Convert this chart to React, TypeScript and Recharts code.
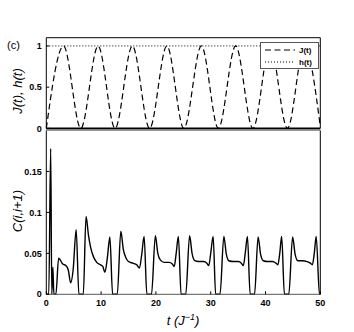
import { LineChart, Line, XAxis, YAxis, Legend } from "recharts";

// J(t): extrema
const jTimes = [0, 3.15, 6.3, 9.45, 12.55, 15.7, 18.85, 22.0, 25.1, 28.3, 31.4, 34.55, 37.7, 40.85, 44.0, 47.1, 50];
const jValues = [0, 1, 0, 1, 0, 1, 0, 1, 0, 1, 0, 1, 0, 1, 0, 1, 0.02];

// h(t): constant field
const hTimes = [0, 50];
const hValues = [1, 1];

// C(i,i+1)
const cTimes = [
  0, 0.45, 0.8, 1.0, 1.2, 1.38, 1.75, 2.25, 3.0, 3.6, 4.0, 4.45, 4.9, 5.45, 5.95,
  6.75, 7.25, 7.7, 8.1, 8.6, 9.2, 9.9, 10.3, 10.7, 11.15, 11.6, 12.1,
  12.95, 13.6, 14.05, 14.5, 15.0, 15.8, 16.5, 17.0, 17.4, 17.85, 18.35,
  19.2, 19.9, 20.35, 20.8, 21.5, 22.4, 23.0, 23.35, 23.7, 24.1, 24.6,
  25.45, 26.15, 26.6, 27.1, 27.8, 28.7, 29.3, 29.65, 30.0, 30.45, 30.9,
  31.7, 32.4, 32.85, 33.3, 34.1, 35.0, 35.6, 35.95, 36.3, 36.7, 37.2,
  38.0, 38.65, 39.1, 39.6, 40.4, 41.3, 41.9, 42.25, 42.6, 42.95, 43.45,
  44.25, 44.95, 45.4, 45.9, 46.7, 47.6, 48.2, 48.55, 48.9, 49.25, 49.85, 50,
];
const cValues = [
  0, 0, 0.178, 0, 0.033, 0, 0, 0.044, 0.037, 0.035, 0.03, 0.014, 0.03, 0.079, 0,
  0, 0.095, 0.072, 0.057, 0.046, 0.039, 0.036, 0.034, 0.027, 0.045, 0.07, 0,
  0, 0.077, 0.055, 0.045, 0.04, 0.038, 0.036, 0.032, 0.048, 0.0705, 0,
  0, 0.0715, 0.05, 0.042, 0.039, 0.039, 0.037, 0.034, 0.05, 0.0705, 0,
  0, 0.0715, 0.05, 0.041, 0.04, 0.04, 0.038, 0.035, 0.05, 0.0705, 0,
  0, 0.0705, 0.049, 0.041, 0.04, 0.04, 0.038, 0.035, 0.05, 0.0705, 0,
  0, 0.07, 0.049, 0.041, 0.04, 0.04, 0.038, 0.036, 0.05, 0.0705, 0,
  0, 0.07, 0.049, 0.041, 0.041, 0.04, 0.038, 0.036, 0.05, 0.0705, 0, 0,
];

const xTicks = [0, 10, 20, 30, 40, 50];
const topTicks = [0, 0.5, 1];
const bottomTicks = [0, 0.05, 0.1, 0.15];

const legendItems = [
  { name: "J(t)", dash: "6 3.5" },
  { name: "h(t)", dash: "1 2" },
];

const FONT = "'Liberation Sans', Arial, sans-serif";
const tickStyle = { fontSize: 9, fontWeight: "bold", fill: "#000", fontFamily: FONT };

const jData = jTimes.map((t, i) => ({ t, v: jValues[i] }));
const hData = hTimes.map((t, i) => ({ t, v: hValues[i] }));
const cData = cTimes.map((t, i) => ({ t, v: cValues[i] }));

const fmt = (v: number) => String(v);

const LegendBox = () => (
  <div
    style={{
      width: 57,
      height: 25,
      border: "1.5px solid #555",
      background: "#fff",
      fontFamily: FONT,
      fontSize: 8,
      fontWeight: "bold",
    }}
  >
    {legendItems.map((item) => (
      <div key={item.name} style={{ display: "flex", alignItems: "center", height: 10, marginTop: 2 }}>
        <svg width={34} height={6} style={{ marginLeft: 3 }}>
          <line x1={1} y1={3} x2={31} y2={3} stroke="#000" strokeWidth={1.2} strokeDasharray={item.dash} />
        </svg>
        <span style={{ marginLeft: 1 }}>{item.name}</span>
      </div>
    ))}
  </div>
);

export default function App() {
  return (
    <div style={{ position: "absolute", left: 0, top: 0, width: 354, height: 332, background: "#fff" }}>
      <div style={{ position: "absolute", left: 0, top: 0 }}>
        {/* a bit taller than the panel so the "0" tick label is not clipped */}
        <LineChart width={354} height={136} margin={{ top: 36.7, right: 32.7, bottom: 6.6, left: 6.3 }}>
          <XAxis xAxisId="b" dataKey="t" type="number" domain={[0, 50]} ticks={xTicks} tick={false} tickLine={false} height={1} axisLine={{ stroke: "#000", strokeWidth: 2 }} />
          <XAxis xAxisId="top" orientation="top" dataKey="t" type="number" domain={[0, 50]} tick={false} tickLine={false} height={1} axisLine={{ stroke: "#000" }} />
          <YAxis yAxisId="l" type="number" domain={[0, 1.1]} ticks={topTicks} interval={0} width={40} tickSize={-3} tickMargin={7.6} tick={tickStyle} tickFormatter={fmt} axisLine={{ stroke: "#000" }} tickLine={{ stroke: "#000" }} />
          <YAxis yAxisId="r" orientation="right" type="number" domain={[0, 1.1]} ticks={topTicks} interval={0} width={1} tickSize={-3} tickFormatter={() => ""} axisLine={{ stroke: "#000" }} tickLine={{ stroke: "#000" }} />
          <Line xAxisId="b" yAxisId="l" data={jData} dataKey="v" name="J(t)" type="monotone" stroke="#000" strokeWidth={1.2} strokeDasharray="6 3.5" dot={false} isAnimationActive={false} />
          <Line xAxisId="b" yAxisId="l" data={hData} dataKey="v" name="h(t)" type="linear" stroke="#000" strokeWidth={1} strokeDasharray="1 2" dot={false} isAnimationActive={false} />
          <Legend layout="vertical" align="center" verticalAlign="middle" content={<LegendBox />} wrapperStyle={{ position: "absolute", left: 260, top: 42, width: 60, height: 28 }} />
        </LineChart>
      </div>
      <div style={{ position: "absolute", left: 0, top: 129 }}>
        <LineChart width={354} height={203} margin={{ top: 0.5, right: 32.7, bottom: 19.7, left: 6.3 }}>
          <XAxis xAxisId="b" dataKey="t" type="number" domain={[0, 50]} ticks={xTicks} interval={0} height={18} tickSize={-3} tickMargin={8.8} tick={tickStyle} tickFormatter={fmt} axisLine={{ stroke: "#555" }} tickLine={{ stroke: "#000" }} />
          <XAxis xAxisId="top" orientation="top" dataKey="t" type="number" domain={[0, 50]} tick={false} tickLine={false} height={1} axisLine={{ stroke: "#999" }} />
          <YAxis yAxisId="l" type="number" domain={[0, 0.2]} ticks={bottomTicks} interval={0} width={40} tickSize={-3} tickMargin={7.6} tick={tickStyle} tickFormatter={fmt} axisLine={{ stroke: "#000" }} tickLine={{ stroke: "#000" }} />
          <YAxis yAxisId="r" orientation="right" type="number" domain={[0, 0.2]} ticks={bottomTicks} interval={0} width={1} tickSize={-3} tickFormatter={() => ""} axisLine={{ stroke: "#000" }} tickLine={{ stroke: "#000" }} />
          <Line xAxisId="b" yAxisId="l" data={cData} dataKey="v" name="C(i,i+1)" type="monotone" stroke="#000" strokeWidth={1.4} dot={false} isAnimationActive={false} />
        </LineChart>
      </div>
      <svg width={354} height={332} style={{ position: "absolute", left: 0, top: 0, pointerEvents: "none" }} fontFamily={FONT}>
        <text x={7} y={49} fontSize={11}>(c)</text>
        <text x={17} y={91} fontSize={13} fontStyle="italic" textAnchor="middle" dominantBaseline="central" transform="rotate(-90 17 91)">
          J(t), h(t)
        </text>
        <text x={17} y={211} fontSize={13} fontStyle="italic" textAnchor="middle" dominantBaseline="central" transform="rotate(-90 17 211)">
          C(i,i+1)
        </text>
        <text x={183} y={325} fontSize={13} fontStyle="italic" textAnchor="middle">
          t (J<tspan fontSize={9} dy={-5}>−1</tspan><tspan dy={5}>)</tspan>
        </text>
      </svg>
    </div>
  );
}
